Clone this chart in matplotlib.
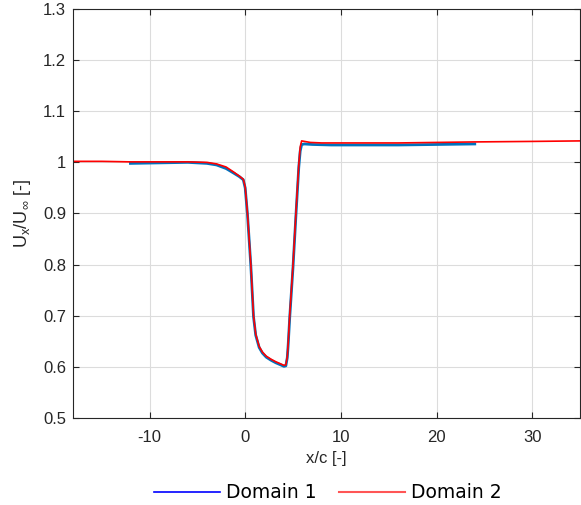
import numpy as np
import matplotlib
matplotlib.use("Agg")
import matplotlib.pyplot as plt
from matplotlib.lines import Line2D

# ----------------------------------------------------------
# dados
# ----------------------------------------------------------
x_dom1 = [-12.0, -9.0, -6.0, -4.0, -3.0, -2.0, -1.2, -0.6, -0.2, 0.0, 0.24, 0.59, 0.87,
          1.1, 1.46, 1.8, 2.2, 2.7, 3.2, 3.7, 4.05, 4.25, 4.4, 4.5, 4.65, 5.0, 5.3, 5.6,
          5.75, 5.9, 6.2, 7.0, 9.0, 12.0, 16.0, 20.0, 24.0]
u_dom1 = [0.998, 0.999, 1.000, 0.998, 0.995, 0.988, 0.979, 0.972, 0.966, 0.950, 0.898, 0.798,
          0.698, 0.662, 0.638, 0.627, 0.619, 0.613, 0.608, 0.604, 0.601, 0.602, 0.618, 0.645,
          0.695, 0.795, 0.895, 0.990, 1.022, 1.035, 1.036, 1.035, 1.034, 1.034, 1.034, 1.035,
          1.036]

x_dom2 = [-18.0, -15.0, -12.0, -9.0, -6.0, -4.0, -3.0, -2.0, -1.2, -0.6, -0.2, 0.0, 0.24,
          0.59, 0.87, 1.1, 1.46, 1.8, 2.2, 2.7, 3.2, 3.7, 4.05, 4.25, 4.4, 4.5, 4.65, 5.0,
          5.3, 5.6, 5.75, 5.9, 6.2, 6.8, 8.0, 12.0, 16.0, 20.0, 24.0, 30.0, 35.0]
u_dom2 = [1.002, 1.002, 1.001, 1.001, 1.001, 1.000, 0.997, 0.991, 0.981, 0.973, 0.967, 0.952,
          0.900, 0.800, 0.700, 0.664, 0.640, 0.629, 0.621, 0.615, 0.610, 0.606, 0.603, 0.604,
          0.620, 0.648, 0.700, 0.800, 0.900, 0.995, 1.030, 1.042, 1.041, 1.039, 1.038, 1.038,
          1.038, 1.039, 1.040, 1.041, 1.042]

xticks = [-10, 0, 10, 20, 30]
yticks = [0.5, 0.6, 0.7, 0.8, 0.9, 1.0, 1.1, 1.2, 1.3]
yticklabels = ['0.5', '0.6', '0.7', '0.8', '0.9', '1', '1.1', '1.2', '1.3']

# ----------------------------------------------------------
# grafico
# ----------------------------------------------------------
plt.rcParams['font.family'] = ['Liberation Sans', 'DejaVu Sans']
plt.rcParams['mathtext.fontset'] = 'custom'
plt.rcParams['mathtext.rm'] = 'Liberation Sans'
plt.rcParams['mathtext.it'] = 'Liberation Sans'
plt.rcParams['axes.unicode_minus'] = False

fig = plt.figure(figsize=(5.81, 5.05), dpi=100)
ax = fig.add_axes([73 / 581, 1 - 418 / 505, 507 / 581, 409 / 505])

ax.plot(x_dom1, u_dom1, color='#0072BD', lw=2.0)
ax.plot(x_dom2, u_dom2, color='#FF0000', lw=1.2)

ax.set_xlim(-18, 35)
ax.set_ylim(0.5, 1.3)
ax.set_xticks(xticks)
ax.set_yticks(yticks)
ax.set_yticklabels(yticklabels)
ax.tick_params(direction='in', length=4, labelsize=12, colors='#262626',
               top=True, right=True)
ax.tick_params(axis='x', pad=9)
ax.tick_params(axis='y', pad=5)
ax.grid(True, color='#dcdcdc', lw=0.8)
for s in ax.spines.values():
    s.set_color('#262626')
    s.set_linewidth(0.8)

ax.set_xlabel('x/c [-]', fontsize=12, color='#262626', labelpad=4)
ax.set_ylabel(r'U$_x$/U$_\infty$ [-]', fontsize=13, color='#262626', labelpad=7)

handles = [Line2D([], [], color='#0000FF', lw=1.2),
           Line2D([], [], color='#FF5555', lw=1.5)]
fig.legend(handles, ['Domain 1', 'Domain 2'], loc='center', ncol=2,
           bbox_to_anchor=(328 / 581, 1 - 493 / 505), frameon=False,
           prop={'family': 'DejaVu Sans', 'size': 13.5},
           handlelength=3.5, handletextpad=0.35, columnspacing=1.2)

plt.savefig('out.png', dpi=100)
plt.close()
